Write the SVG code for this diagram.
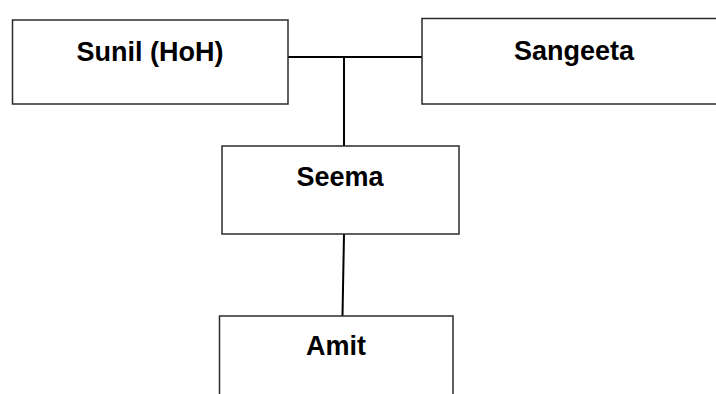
<svg xmlns="http://www.w3.org/2000/svg" width="716" height="394" viewBox="0 0 716 394">
  <style>
    .box { fill: #ffffff; stroke: #2b2b2b; stroke-width: 1.5; }
    .label { font-family: "Liberation Sans", Arial, sans-serif; font-weight: bold; font-size: 27px; fill: #000000; text-anchor: middle; }
    .link { fill: none; stroke: #000000; stroke-width: 2; }
  </style>
  <rect width="716" height="394" fill="#ffffff"/>

  <g id="connectors">
    <line class="link" x1="288" y1="57" x2="422" y2="57"/>
    <line class="link" x1="344" y1="57" x2="344" y2="146"/>
    <line class="link" x1="344" y1="234" x2="342.5" y2="316"/>
  </g>

  <g id="sunil">
    <rect class="box" x="12.5" y="20" width="275.5" height="84"/>
    <text class="label" x="150" y="61">Sunil (HoH)</text>
  </g>

  <g id="sangeeta">
    <rect class="box" x="422" y="18.5" width="310" height="85.5"/>
    <text class="label" x="574" y="60">Sangeeta</text>
  </g>

  <g id="seema">
    <rect class="box" x="222" y="146" width="237" height="88"/>
    <text class="label" x="340" y="186">Seema</text>
  </g>

  <g id="amit">
    <rect class="box" x="219.5" y="316" width="233.5" height="100"/>
    <text class="label" x="336" y="355">Amit</text>
  </g>
</svg>
